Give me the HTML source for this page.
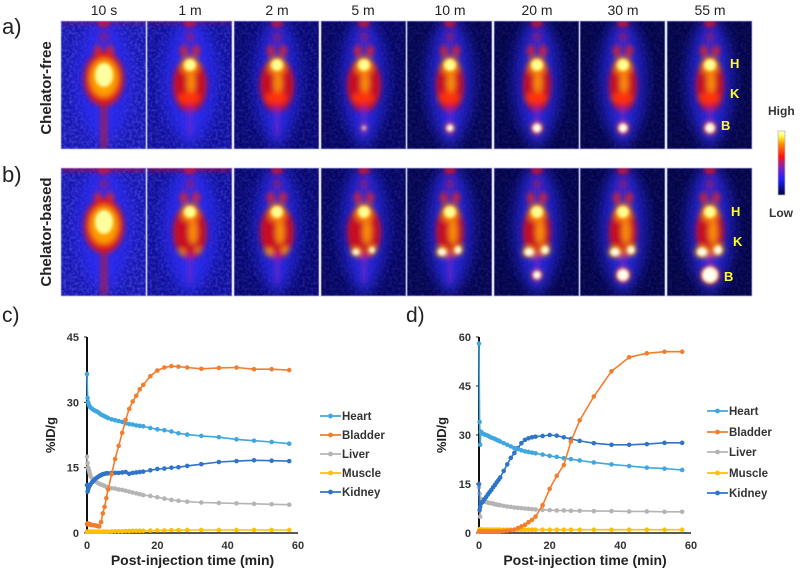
<!DOCTYPE html>
<html><head><meta charset="utf-8">
<style>
html,body{margin:0;padding:0;background:#fff;}
svg{display:block;font-family:"Liberation Sans",Arial,sans-serif;}
</style></head>
<body>
<svg id="fig" width="800" height="574" viewBox="0 0 800 574" xmlns="http://www.w3.org/2000/svg">
<defs>
<filter id="blur3" x="-50%" y="-50%" width="200%" height="200%"><feGaussianBlur stdDeviation="3"/></filter>
<filter id="blur6" x="-50%" y="-50%" width="200%" height="200%"><feGaussianBlur stdDeviation="7"/></filter>
<filter id="blur1" x="-50%" y="-50%" width="200%" height="200%"><feGaussianBlur stdDeviation="1.5"/></filter>
<filter id="noise" x="0" y="0" width="100%" height="100%">
<feTurbulence type="fractalNoise" baseFrequency="0.35" numOctaves="2" seed="3"/>
<feColorMatrix type="matrix" values="0 0 0 0 0.15  0 0 0 0 0.15  0 0 0 0 1  0 0 0 1.2 -0.45"/>
</filter>
<linearGradient id="cbar" x1="0" y1="1" x2="0" y2="0">
<stop offset="0" stop-color="#000040"/><stop offset="0.25" stop-color="#2020ff"/><stop offset="0.45" stop-color="#9020b0"/><stop offset="0.6" stop-color="#ff1010"/><stop offset="0.8" stop-color="#ff9000"/><stop offset="0.92" stop-color="#ffff40"/><stop offset="1" stop-color="#ffffe8"/>
</linearGradient>
</defs>
<g id="pet"></g>
<text x="2" y="34" font-size="22" fill="#222">a)</text>
<text x="2" y="182" font-size="22" fill="#222">b)</text>
<text transform="translate(51,88) rotate(-90)" text-anchor="middle" font-size="15" font-weight="bold" fill="#222">Chelator-free</text>
<text transform="translate(51,232) rotate(-90)" text-anchor="middle" font-size="15" font-weight="bold" fill="#222">Chelator-based</text>
<text x="768" y="115" font-size="12" font-weight="bold" fill="#333">High</text>
<rect x="778" y="131" width="7" height="64" fill="url(#cbar)" stroke="#bbb" stroke-width="0.8"/>
<text x="769" y="217" font-size="12" font-weight="bold" fill="#333">Low</text>
<g id="chartC"></g>
<g id="chartD"></g>
</svg>
<script>
const NS="http://www.w3.org/2000/svg";
// ---- chart data ----
const times=[0,0.17,0.33,0.5,0.67,0.83,1,1.5,2,2.5,3,3.5,4,4.5,5,5.5,6,7,8,9,10,11,12,13,14,15,16,18,20,22,24,26,28.5,32.5,37.5,42.5,47.5,52.5,57.5];
const seriesNames=["Heart","Bladder","Liver","Muscle","Kidney"];
const heartC=[36.5,31,30,29.5,29.2,29,28.8,28.5,28.2,28,27.8,27.5,27.2,27,26.8,26.6,26.4,26.1,25.9,25.7,25.5,25.2,25,24.9,24.7,24.6,24.5,24.1,23.8,23.6,23.3,22.9,22.6,22.3,22.0,21.5,21.2,20.9,20.5];
const bladderC=[2,2.2,2,2.1,2,1.9,2,1.8,1.8,1.7,1.6,1.5,2.5,4.5,6,8,10,13.5,17,20,23,26,28.5,30.2,31.5,33,34,36,37.3,38,38.3,38.2,38,37.7,37.9,38,37.6,37.6,37.4];
const liverC=[17.5,16,15,14.5,14,13.5,13,12.5,12,11.8,11.5,11.3,11.1,11,10.8,10.6,10.5,10.3,10.2,10,9.9,9.7,9.5,9.3,9.1,8.9,8.7,8.5,8.2,7.9,7.6,7.4,7.2,7.0,6.9,6.8,6.7,6.6,6.5];
const muscleC=[0.3,0.3,0.3,0.3,0.3,0.3,0.3,0.3,0.3,0.3,0.3,0.3,0.3,0.3,0.3,0.3,0.3,0.35,0.4,0.4,0.4,0.45,0.45,0.5,0.5,0.5,0.5,0.55,0.6,0.6,0.65,0.65,0.7,0.7,0.7,0.7,0.7,0.7,0.7];
const kidneyC=[11,9.5,10,10.5,10.8,11,11.2,11.7,12.1,12.5,12.8,13.1,13.3,13.5,13.6,13.7,13.7,13.8,13.8,13.8,13.9,14,13.6,13.8,13.9,14,14.1,14.4,14.7,14.8,15,15.1,15.4,15.8,16.3,16.5,16.7,16.6,16.5];
const heartD=[58,34,27,31,30.8,30.6,30.5,30.2,30,29.8,29.5,29.2,29,28.8,28.5,28.3,28,27.5,27,26.5,26,25.7,25.3,25,24.8,24.6,24.4,24,23.6,23.3,22.9,22.6,22.2,21.6,21,20.5,20,19.7,19.3];
const bladderD=[0.5,0.5,0.5,0.5,0.5,0.5,0.5,0.5,0.5,0.5,0.5,0.5,0.5,0.5,0.5,0.5,0.5,0.6,0.7,0.8,1,1.5,2,2.5,3.3,4,5,8.5,13.5,17.5,20.8,28,34.5,41.8,49.5,53.8,55,55.5,55.5];
const liverD=[14,12,5,10.5,10.3,10.1,10,9.7,9.5,9.3,9.2,9.1,9,8.8,8.7,8.6,8.5,8.3,8.1,8,7.8,7.7,7.6,7.5,7.4,7.3,7.2,7.1,7,6.9,6.9,6.8,6.8,6.7,6.7,6.6,6.6,6.5,6.5];
const muscleD=[0.3,1.2,1,1,1,1,1,1,1,1,1,1,1,1,1,1,1,1,1,1,1,1,1,1,1,1,1,1,1,1,1,1,1,1,1,1,1,1,1];
const kidneyD=[15,7,8,9,9.2,9.4,9.5,10.3,11,11.8,12.5,13.2,14,14.7,15.5,16.2,17,19,21,23,24.5,26,27.5,28.5,29,29.3,29.5,29.7,30,29.8,29.3,28.8,28.2,27.5,27,27,27.2,27.6,27.6];
const xTicks=[0,20,40,60];
const yTicksC=[0,15,30,45];
const yTicksD=[0,15,30,45,60];
const colors=["#3FA7DF","#F47D2C","#B4B4B4","#FFC000","#2E74C8"];

function el(tag,attrs,parent){const e=document.createElementNS(NS,tag);for(const k in attrs)e.setAttribute(k,attrs[k]);parent.appendChild(e);return e;}

function drawChart(g,cfg){
  const x=v=>cfg.x0+(v-0)/(60-0)*(cfg.x1-cfg.x0);
  const y=v=>cfg.y0-(v/cfg.ymax)*(cfg.y0-cfg.y1);
  let t=el("text",{x:cfg.lx,y:cfg.ly,"font-size":21,fill:"#222"},g);t.textContent=cfg.label;
  
  
  cfg.yticks.forEach(v=>{
    const tt=el("text",{x:cfg.x0-8,y:y(v)+4,"text-anchor":"end","font-size":11,"font-weight":"bold",fill:"#333"},g);tt.textContent=v;
    
    
    const tk=el("line",{x1:cfg.x0-3,x2:cfg.x0,y1:y(v),y2:y(v),stroke:"#222","stroke-width":1},g);
    
    
  });
  xTicks.forEach(v=>{
    const tt=el("text",{x:x(v),y:cfg.y0+16,"text-anchor":"middle","font-size":11,"font-weight":"bold",fill:"#333"},g);tt.textContent=v;
    
    
  });
  const xa=el("line",{x1:cfg.x0,x2:cfg.x1,y1:cfg.y0,y2:cfg.y0,stroke:"#222","stroke-width":1.5},g);
  
  
  const ya=el("line",{x1:cfg.x0,x2:cfg.x0,y1:cfg.y1,y2:cfg.y0,stroke:"#111","stroke-width":2},g);
  
  
  const yt=el("text",{transform:`translate(${cfg.ytx},${(cfg.y0+cfg.y1)/2}) rotate(-90)`,"text-anchor":"middle","font-size":13,"font-weight":"bold",fill:"#222"},g);yt.textContent="%ID/g";
  
  
  const xt=el("text",{x:(cfg.x0+cfg.x1)/2,y:cfg.y0+32,"text-anchor":"middle","font-size":14,"font-weight":"bold",fill:"#222"},g);xt.textContent="Post-injection time (min)";
  
  
  const order=[2,3,4,0,1];
  order.forEach(si=>{
    const vals=cfg.series[si];
    const sg=el("g",{},g);
    
    
    const pts=vals.map((v,i)=>x(times[i]).toFixed(1)+","+y(v).toFixed(1)).join(" ");
    const pl=el("polyline",{points:pts,fill:"none",stroke:colors[si],"stroke-width":1.6},sg);
    
    
    vals.forEach((v,i)=>{
      const c=el("circle",{cx:x(times[i]),cy:y(v),r:2.3,fill:colors[si]},sg);
      
      
    });
  });
  seriesNames.forEach((n,i)=>{
    const ly=cfg.legY[i];
    const lg=el("g",{},g);
    
    
    el("line",{x1:cfg.legX,x2:cfg.legX+21,y1:ly,y2:ly,stroke:colors[i],"stroke-width":1.8},lg);
    el("circle",{cx:cfg.legX+10.5,cy:ly,r:2.4,fill:colors[i]},lg);
    const lt=el("text",{x:cfg.legX+22,y:ly+4,"font-size":11.5,"font-weight":"bold",fill:"#333"},lg);lt.textContent=n;
  });
}
drawChart(document.getElementById("chartC"),{x0:87,x1:298,y0:533,y1:337,ymax:45,yticks:yTicksC,series:[heartC,bladderC,liverC,muscleC,kidneyC],label:"c)",lx:2,ly:322,ytx:55,legX:320,legY:[416,435,454,473,492]});
drawChart(document.getElementById("chartD"),{x0:479,x1:691,y0:533,y1:337,ymax:60,yticks:yTicksD,series:[heartD,bladderD,liverD,muscleD,kidneyD],label:"d)",lx:406,ly:322,ytx:446,legX:707,legY:[411,432,452,473,493]});

// ---- PET image grid ----
const timeLabels=["10 s","1 m","2 m","5 m","10 m","20 m","30 m","55 m"];
const pet=document.getElementById("pet");
const colX=[61,147,234,321,407,494,580,667];
const rowY=[21,168];
const bgCols=["#1818b0","#10109a","#080870","#060660","#05054f","#04044a","#040448","#040446"];
const noiseOp=[0.9,0.7,0.45,0.35,0.3,0.25,0.25,0.25];
function panel(r,k){
  const px=colX[k],py=rowY[r],w=85,h=128;
  const g=el("g",{transform:`translate(${px},${py})`},pet);
  
  
  el("rect",{x:0,y:0,width:w,height:h,fill:bgCols[k]},g);
  const clip="clip"+r+k;
  const cp=el("clipPath",{id:clip},g);el("rect",{x:0,y:0,width:w,height:h},cp);
  const b=el("g",{"clip-path":`url(#${clip})`},g);
  el("rect",{x:0,y:0,width:w,height:h,filter:"url(#noise)",opacity:noiseOp[k]},b);
  const soft=el("g",{filter:"url(#blur6)"},b);
  el("ellipse",{cx:43,cy:60,rx:k<2?27:23,ry:62,fill:"#2a2aee",opacity:k<2?0.9:0.75},soft);
  el("rect",{x:40,y:0,width:6,height:h,fill:"#3a3aff",opacity:0.8},soft);
  const mid=el("g",{filter:"url(#blur3)"},b);
  const hot=el("g",{filter:"url(#blur1)"},b);
  if(k<2) el("rect",{x:0,y:-2,width:w,height:4,fill:"#d01020",opacity:r===1?0.9:0.5},mid);
  el("ellipse",{cx:43,cy:2,rx:6,ry:4,fill:"#e01020"},mid);
  el("ellipse",{cx:43,cy:16,rx:5,ry:5,fill:"#a01060",opacity:0.7},mid);
  el("ellipse",{cx:37,cy:30,rx:3.5,ry:6,fill:"#e82020"},mid);
  el("ellipse",{cx:49,cy:30,rx:3.5,ry:6,fill:"#e82020"},mid);
  if(k===0){
    el("ellipse",{cx:43,cy:58,rx:20,ry:27,fill:"#e01818"},mid);
    el("ellipse",{cx:43,cy:57,rx:14,ry:19,fill:"#ffa000"},mid);
    el("ellipse",{cx:43,cy:54,rx:9,ry:12,fill:"#ffffa0"},hot);
    el("rect",{x:41,y:80,width:4,height:48,fill:"#d01818"},mid);
  } else {
    el("ellipse",{cx:43,cy:64,rx:17-(k>3?3:0),ry:27,fill:"#c81020"},mid);
    el("ellipse",{cx:43,cy:45,rx:9,ry:9,fill:"#ff8000"},mid);
    el("ellipse",{cx:43,cy:44,rx:6,ry:6,fill:"#ffff90"},hot);
    el("rect",{x:41.5,y:85,width:3,height:30,fill:"#8020c0"},mid);
    if(r===0){
      el("ellipse",{cx:44,cy:62,rx:4,ry:10,fill:"#ff9000"},mid);
      el("ellipse",{cx:42,cy:77,rx:11,ry:6,fill:"#ff3010"},mid);
      const br=[0,0,0,1.8,3.5,4.5,4.5,5][k];
      if(br>0){el("circle",{cx:43,cy:107,r:br+1,fill:"#ff5000"},mid);el("circle",{cx:43,cy:107,r:br,fill:"#fffff0"},hot);}
    } else {
      el("ellipse",{cx:46,cy:64,rx:4,ry:12,fill:"#ff9000"},mid);
      const kr=[0,3,4,5,6,6.5,6.5,7][k];
      el("ellipse",{cx:35,cy:84,rx:kr,ry:kr*0.8,fill:"#ffa000"},mid);
      el("ellipse",{cx:51,cy:82,rx:kr*0.8,ry:kr*0.8,fill:"#ffa000"},mid);
      if(k>=3){el("ellipse",{cx:35,cy:84,rx:kr*0.7,ry:kr*0.6,fill:"#fffff0"},hot);el("ellipse",{cx:51,cy:82,rx:kr*0.55,ry:kr*0.6,fill:"#fffff0"},hot);}
      const br=[0,0,0,0,0,4,6,8][k];
      if(br>0){el("circle",{cx:43,cy:107,r:br+1,fill:"#ff5000"},mid);el("circle",{cx:43,cy:107,r:br,fill:"#fffff0"},hot);}
    }
  }
  el("rect",{x:0,y:0,width:w,height:h,fill:"none",stroke:"#b8b8e8","stroke-width":0.8},g);
}
for(let r=0;r<2;r++)for(let k=0;k<8;k++)panel(r,k);
const labCx=[104,190,277,363,450,537,623,710];
timeLabels.forEach((t,i)=>{
  const tx=el("text",{x:labCx[i],y:15,"text-anchor":"middle","font-size":14,fill:"#222"},pet);tx.textContent=t;
  
  
});
[["H",730,68],["K",730,98],["B",721,130],["H",731,216],["K",733,246],["B",724,281]].forEach(a=>{
  const tx=el("text",{x:a[1],y:a[2],"font-size":13,"font-weight":"bold",fill:"#ffff20"},pet);tx.textContent=a[0];
  
  
});
</script>
</body></html>
